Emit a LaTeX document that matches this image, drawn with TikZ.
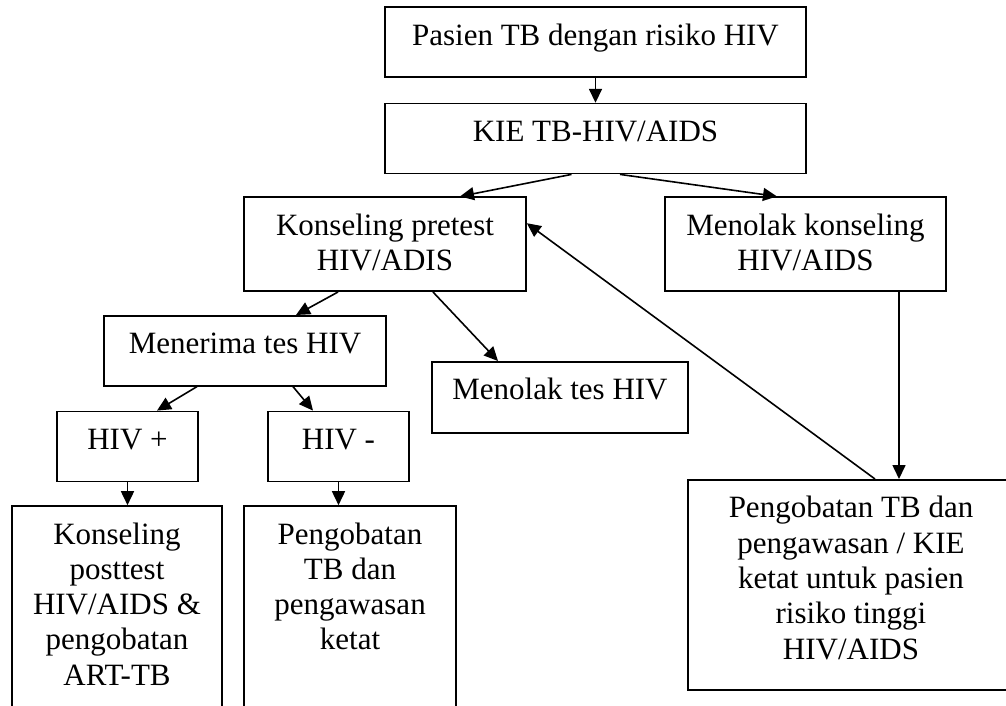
\documentclass[tikz,border=0pt]{standalone}
\usepackage{fontspec}
\setmainfont{Liberation Serif}
\usetikzlibrary{positioning,arrows.meta}
\newcommand{\flowtext}[3]{\parbox[c][#2][t]{#1}{\centering\rule{0pt}{38pt}#3}}

\begin{document}
\begin{tikzpicture}[
    x=1pt,
    y=-1pt,
    ->,
    >={Triangle[length=14pt,width=13pt]},
    line width=1.6pt,
    main node/.style={draw,inner sep=0pt,font=\fontsize{31pt}{35.3pt}\selectfont}
    ]

    \clip (0,0) rectangle (1006,705);

    \node[main node] (1) at (595.5,42) {\flowtext{421pt}{70pt}{Pasien TB dengan risiko HIV}};
    \node[main node] (2) [below=25pt of 1] {\flowtext{421pt}{70pt}{KIE TB-HIV/AIDS}};
    \node[main node] (3) [below=22pt of 2, xshift=-210.5pt] {\flowtext{282pt}{94pt}{Konseling pretest\\HIV/ADIS}};
    \node[main node] (4) [below=22pt of 2, xshift=210pt] {\flowtext{281pt}{94pt}{Menolak konseling\\HIV/AIDS}};
    \node[main node] (5) [below=23pt of 3, xshift=-140pt] {\flowtext{282pt}{70pt}{Menerima tes HIV}};
    \node[main node] (6) [below=69pt of 3, xshift=175pt] {\flowtext{256pt}{71pt}{Menolak tes HIV}};
    \node[main node] (7) [below=24pt of 5, xshift=-117.5pt] {\flowtext{141pt}{70pt}{HIV +}};
    \node[main node] (8) [below=24pt of 5, xshift=93.5pt] {\flowtext{141pt}{70pt}{HIV -}};
    \node[main node] (9) [below=23pt of 7, xshift=-10.5pt] {\flowtext{210pt}{217pt}{Konseling\\posttest\\HIV/AIDS \&\\pengobatan\\ART-TB}};
    \node[main node] (10) [below=23pt of 8, xshift=11.5pt] {\flowtext{212pt}{217pt}{Pengobatan\\TB dan\\pengawasan\\ketat}};
    \node[main node] (11) [below=187pt of 4, xshift=45.5pt] {\flowtext{326pt}{210pt}{Pengobatan TB dan\\pengawasan / KIE\\ketat untuk pasien\\risiko tinggi\\HIV/AIDS}};

    \path[]
      (1) edge (2)
      ([xshift=-24pt]2.south) edge ([xshift=75pt]3.north)
      ([xshift=24.5pt]2.south) edge ([xshift=-28.5pt]4.north)
      ([xshift=-47pt]3.south) edge ([xshift=51pt]5.north)
      ([xshift=48pt]3.south) edge ([xshift=-62pt]6.north)
      ([xshift=-48pt]5.south) edge ([xshift=29.5pt]7.north)
      ([xshift=48pt]5.south) edge ([xshift=-25.5pt]8.north)
      (7.south) edge (7.south |- 9.north)
      (8.south) edge (8.south |- 10.north)
      ([xshift=93.5pt]4.south) edge ([xshift=93.5pt]4.south |- 11.north)
      ([xshift=24pt]11.north) edge ([yshift=21pt]3.east);
  \end{tikzpicture}
\end{document}
